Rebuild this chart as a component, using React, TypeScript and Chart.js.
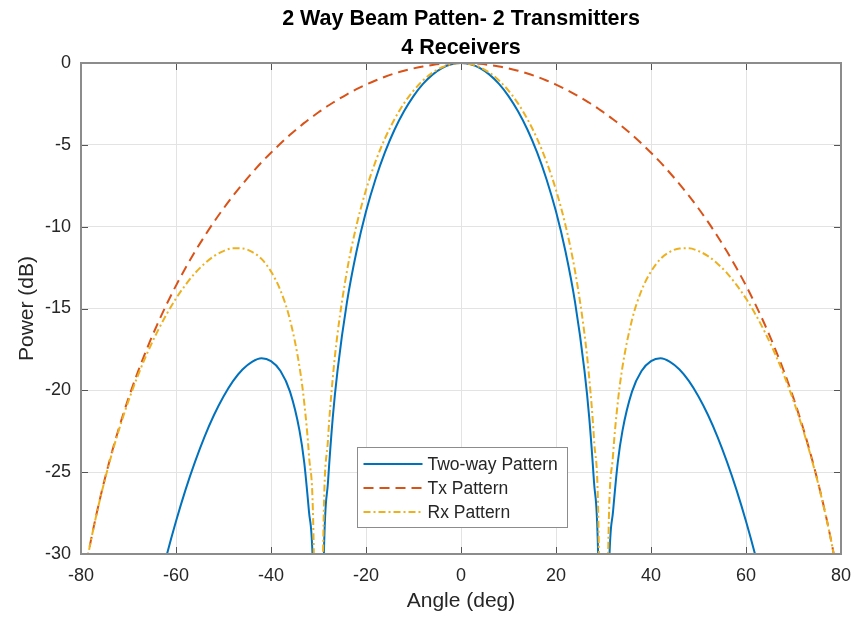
import React, { useEffect, useRef } from "react";
import { Chart, registerables } from "chart.js";

Chart.register(...registerables);

const titleLines = ["2 Way Beam Patten- 2 Transmitters", "4 Receivers"];
const xLabel = "Angle (deg)";
const yLabel = "Power (dB)";
const seriesNames = ["Two-way Pattern", "Tx Pattern", "Rx Pattern"];

const angles = [
  -80, -78, -76, -74, -72, -70, -68, -66, -64, -62, -60, -58, -56, -54, -52, -50, -48, -46, -44, -42, -40, -38, -36,
  -34, -33, -32, -31, -30, -29, -28, -27, -26,
  -24, -22, -20, -18, -16, -14, -12, -10, -8, -6, -4, -2,
  0,
  2, 4, 6, 8, 10, 12, 14, 16, 18, 20, 22, 24,
  26, 27, 28, 29, 30, 31, 32, 33, 34,
  36, 38, 40, 42, 44, 46, 48, 50, 52, 54, 56, 58, 60, 62, 64, 66, 68, 70, 72, 74, 76, 78, 80,
];

const twoWay = [
  -64.9, -58.6, -53.29, -48.71, -44.69, -41.12, -37.93, -35.06, -32.47, -30.12, -28.0, -26.08, -24.37, -22.84, -21.51, -20.38, -19.44, -18.73, -18.26, -18.04, -18.22, -18.82, -20.08,
  -22.46, -24.42, -27.43, -32.96, -70, -32.05, -25.6, -21.68, -18.81,
  -14.6, -11.52, -9.08, -7.1, -5.45, -4.08, -2.95, -2.02, -1.28, -0.71, -0.31, -0.08,
  0,
  -0.08, -0.31, -0.71, -1.28, -2.02, -2.95, -4.08, -5.45, -7.1, -9.08, -11.52, -14.6,
  -18.81, -21.68, -25.6, -32.05, -70, -32.96, -27.43, -24.42, -22.46,
  -20.08, -18.82, -18.22, -18.04, -18.26, -18.73, -19.44, -20.38, -21.51, -22.84, -24.37, -26.08, -28.0, -30.12, -32.47, -35.06, -37.93, -41.12, -44.69, -48.71, -53.29, -58.6, -64.9,
];

const txPattern = [
  -32.45, -29.29, -26.62, -24.32, -22.29, -20.48, -18.85, -17.37, -16.01, -14.76, -13.6, -12.53, -11.52, -10.59, -9.71, -8.89, -8.12, -7.4, -6.72, -6.07, -5.48, -4.92, -4.39,
  -3.9, -3.66, -3.44, -3.22, -3.01, -2.81, -2.61, -2.43, -2.25,
  -1.91, -1.6, -1.32, -1.07, -0.84, -0.64, -0.47, -0.33, -0.21, -0.12, -0.05, -0.01,
  0,
  -0.01, -0.05, -0.12, -0.21, -0.33, -0.47, -0.64, -0.84, -1.07, -1.32, -1.6, -1.91,
  -2.25, -2.43, -2.61, -2.81, -3.01, -3.22, -3.44, -3.66, -3.9,
  -4.39, -4.92, -5.48, -6.07, -6.72, -7.4, -8.12, -8.89, -9.71, -10.59, -11.52, -12.53, -13.6, -14.76, -16.01, -17.37, -18.85, -20.48, -22.29, -24.32, -26.62, -29.29, -32.45,
];

const rxPattern = [
  -32.46, -29.31, -26.66, -24.39, -22.4, -20.64, -19.08, -17.69, -16.46, -15.36, -14.39, -13.56, -12.84, -12.26, -11.8, -11.49, -11.32, -11.33, -11.54, -11.97, -12.74, -13.9, -15.69,
  -18.56, -20.76, -23.99, -29.74, -60, -29.24, -22.99, -19.26, -16.56,
  -12.7, -9.92, -7.76, -6.03, -4.61, -3.44, -2.47, -1.69, -1.07, -0.59, -0.26, -0.07,
  0,
  -0.07, -0.26, -0.59, -1.07, -1.69, -2.47, -3.44, -4.61, -6.03, -7.76, -9.92, -12.7,
  -16.56, -19.26, -22.99, -29.24, -60, -29.74, -23.99, -20.76, -18.56,
  -15.69, -13.9, -12.74, -11.97, -11.54, -11.33, -11.32, -11.49, -11.8, -12.26, -12.84, -13.56, -14.39, -15.36, -16.46, -17.69, -19.08, -20.64, -22.4, -24.39, -26.66, -29.31, -32.46,
];

const xTicks = { min: -80, max: 80, step: 20 };
const yTicks = { min: -30, max: 0, step: 5 };

const FONT = "'Liberation Sans', Arial, Helvetica, sans-serif";

const framePlugin = {
  id: "matlabFrame",
  afterDatasetsDraw(chart: any) {
    const ctx = chart.ctx;
    const a = chart.chartArea;
    const xs = chart.scales.x;
    const ys = chart.scales.y;
    ctx.save();
    ctx.strokeStyle = "#555555";
    ctx.lineWidth = 1;
    const tl = 7;
    ctx.beginPath();
    xs.ticks.forEach((t: any) => {
      const px = Math.round(xs.getPixelForValue(t.value)) + 0.5;
      ctx.moveTo(px, a.bottom);
      ctx.lineTo(px, a.bottom - tl);
      ctx.moveTo(px, a.top);
      ctx.lineTo(px, a.top + tl);
    });
    ys.ticks.forEach((t: any) => {
      const py = Math.round(ys.getPixelForValue(t.value)) + 0.5;
      ctx.moveTo(a.left, py);
      ctx.lineTo(a.left + tl, py);
      ctx.moveTo(a.right, py);
      ctx.lineTo(a.right - tl, py);
    });
    ctx.stroke();
    ctx.strokeStyle = "#8c8c8c";
    ctx.lineWidth = 2;
    ctx.strokeRect(a.left, a.top, a.right - a.left, a.bottom - a.top);
    ctx.restore();
  },
  afterDraw(chart: any) {
    const ctx = chart.ctx;
    const a = chart.chartArea;
    const bx = a.left + 276.5;
    const by = a.top + 384.5;
    const bw = 210;
    const bh = 80;
    ctx.save();
    ctx.fillStyle = "#ffffff";
    ctx.fillRect(bx, by, bw, bh);
    ctx.strokeStyle = "#8c8c8c";
    ctx.lineWidth = 1;
    ctx.strokeRect(bx, by, bw, bh);
    chart.data.datasets.forEach((ds: any, i: number) => {
      const y = by + 16.5 + i * 24;
      ctx.strokeStyle = ds.borderColor;
      ctx.lineWidth = 2;
      ctx.setLineDash(ds.borderDash || []);
      ctx.beginPath();
      ctx.moveTo(bx + 6, y);
      ctx.lineTo(bx + 65, y);
      ctx.stroke();
      ctx.setLineDash([]);
      ctx.fillStyle = "#262626";
      ctx.font = `17.5px ${FONT}`;
      ctx.textBaseline = "middle";
      ctx.textAlign = "left";
      ctx.fillText(ds.label, bx + 70, y + 1);
    });
    ctx.restore();
  },
};

export default function App() {
  const ref = useRef<HTMLCanvasElement | null>(null);

  useEffect(() => {
    if (!ref.current) return;
    const mk = (vals: number[]) => angles.map((x, i) => ({ x, y: vals[i] }));
    const chart = new Chart(ref.current, {
      type: "line",
      data: {
        datasets: [
          {
            label: seriesNames[0],
            data: mk(twoWay),
            borderColor: "#0072BD",
            borderWidth: 2,
            pointRadius: 0,
            cubicInterpolationMode: "monotone",
            order: 3,
          },
          {
            label: seriesNames[1],
            data: mk(txPattern),
            borderColor: "#D95319",
            borderWidth: 2,
            borderDash: [10, 6],
            pointRadius: 0,
            cubicInterpolationMode: "monotone",
            order: 2,
          },
          {
            label: seriesNames[2],
            data: mk(rxPattern),
            borderColor: "#EDB120",
            borderWidth: 2,
            borderDash: [7, 3, 2, 3],
            pointRadius: 0,
            cubicInterpolationMode: "monotone",
            order: 1,
          },
        ],
      },
      options: {
        animation: false,
        responsive: false,
        events: [],
        layout: { padding: { left: 0, right: 16, top: 0, bottom: 0 } },
        plugins: {
          legend: { display: false },
          tooltip: { enabled: false },
          title: {
            display: true,
            fullSize: false,
            text: titleLines,
            color: "#000000",
            font: { family: FONT, size: 21.5, weight: "bold", lineHeight: "29px" },
            padding: { top: 5, bottom: 0 },
          },
        },
        scales: {
          x: {
            type: "linear",
            min: xTicks.min,
            max: xTicks.max,
            afterFit: (s: any) => {
              s.height = 68;
              s.paddingLeft = 0;
              s.paddingRight = 0;
            },
            ticks: {
              stepSize: xTicks.step,
              autoSkip: false,
              maxRotation: 0,
              color: "#262626",
              padding: 11,
              font: { family: FONT, size: 18 },
            },
            grid: { color: "#e3e3e3", drawTicks: false, lineWidth: 1 },
            border: { display: false },
            title: {
              display: true,
              text: xLabel,
              color: "#262626",
              font: { family: FONT, size: 21 },
              padding: { top: 0, bottom: 8 },
            },
          },
          y: {
            type: "linear",
            min: yTicks.min,
            max: yTicks.max,
            afterFit: (s: any) => {
              s.width = 81;
              s.paddingTop = 0;
              s.paddingBottom = 0;
            },
            ticks: {
              stepSize: yTicks.step,
              autoSkip: false,
              color: "#262626",
              padding: 10,
              font: { family: FONT, size: 18 },
            },
            grid: { color: "#e3e3e3", drawTicks: false, lineWidth: 1 },
            border: { display: false },
            title: {
              display: true,
              text: yLabel,
              color: "#262626",
              font: { family: FONT, size: 21 },
              padding: { top: 15, bottom: 0 },
            },
          },
        },
      },
      plugins: [framePlugin],
    } as any);
    return () => chart.destroy();
  }, []);

  return (
    <div style={{ position: "fixed", left: 0, top: 0, width: 857, height: 622, background: "#ffffff" }}>
      <canvas ref={ref} width={857} height={622} style={{ display: "block" }} />
    </div>
  );
}
